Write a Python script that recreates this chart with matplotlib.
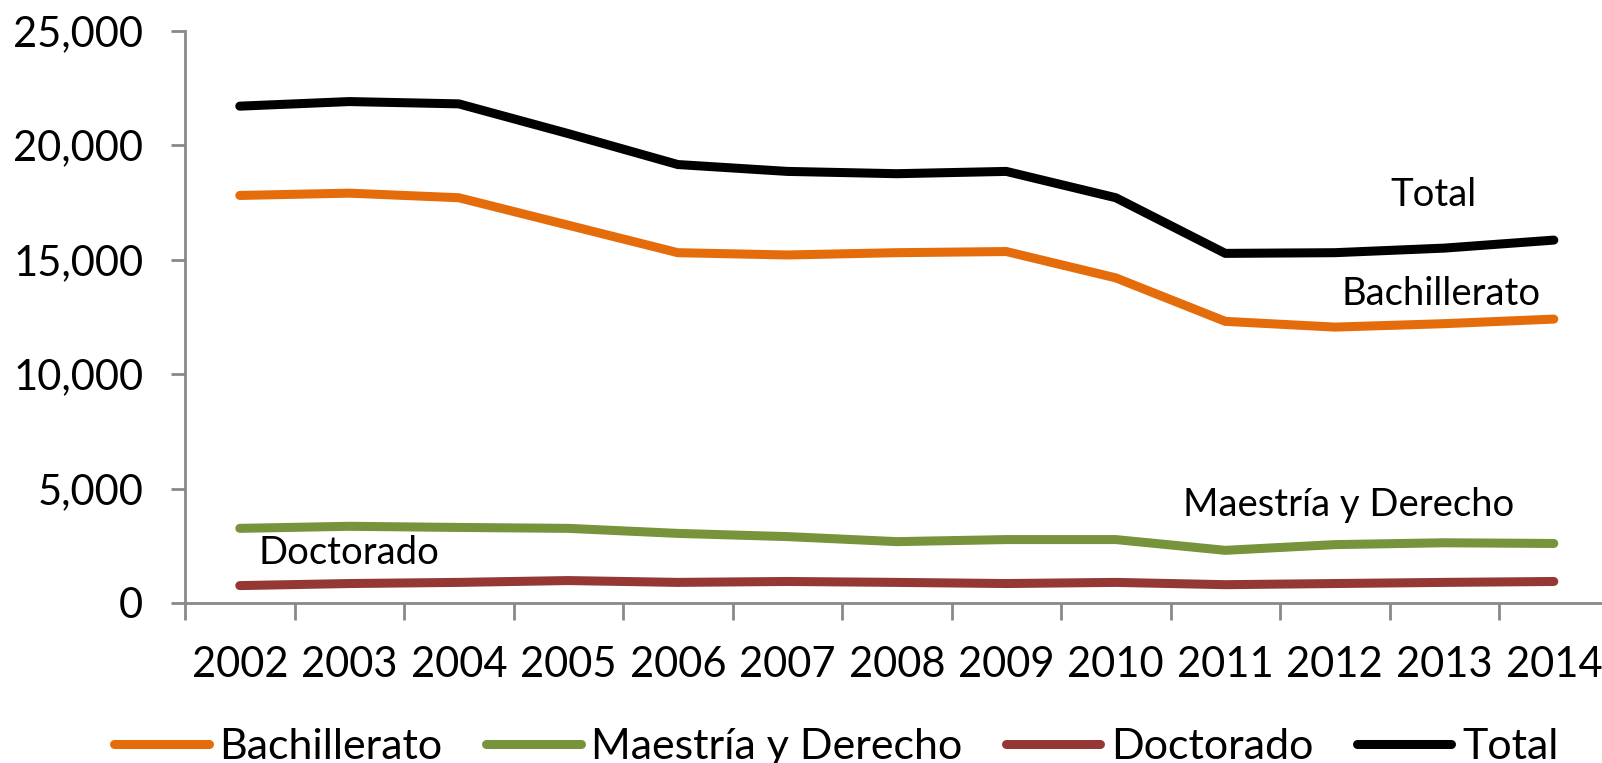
import numpy as np
import matplotlib.pyplot as plt

plt.rcParams['font.family'] = ['Lato', 'DejaVu Sans']

years = ['2002', '2003', '2004', '2005', '2006', '2007', '2008',
         '2009', '2010', '2011', '2012', '2013', '2014']
bachillerato = [17800, 17900, 17700, 16500, 15300, 15200, 15300,
                15350, 14200, 12300, 12050, 12200, 12400]
maestria = [3260, 3350, 3300, 3260, 3040, 2900, 2680,
            2770, 2770, 2300, 2550, 2630, 2600]
doctorado = [760, 850, 900, 980, 900, 940, 900,
             850, 900, 800, 850, 900, 940]
total = [21700, 21900, 21800, 20500, 19150, 18850, 18750,
         18850, 17700, 15270, 15300, 15500, 15850]

series = [
    ('Bachillerato', bachillerato, '#E46C0A'),
    ('Maestría y Derecho', maestria, '#77933C'),
    ('Doctorado', doctorado, '#953735'),
    ('Total', total, '#000000'),
]

fig = plt.figure(figsize=(16.02, 7.63), dpi=100)
ax = fig.add_axes([0.1155, 0.2097, 0.8886, 0.7502])

x = np.arange(len(years))
for name, vals, col in series:
    ax.plot(x, vals, color=col, lw=6.5, solid_capstyle='round',
            solid_joinstyle='round', label=name)

ax.set_xlim(-0.5, len(years) - 0.5)
ax.set_ylim(0, 25000)
ax.set_yticks(np.arange(0, 25001, 5000))
ax.set_yticklabels([f'{v:,}' for v in range(0, 25001, 5000)])
ax.set_xticks(x)
ax.set_xticklabels(years)
ax.set_xticks(np.arange(-0.5, len(years)), minor=True)

grey = '#898989'
for s in ['top', 'right']:
    ax.spines[s].set_visible(False)
for s in ['left', 'bottom']:
    ax.spines[s].set_color(grey)
    ax.spines[s].set_linewidth(2)

ax.tick_params(axis='y', direction='out', length=10, width=2, color=grey,
               labelsize=30, pad=20)
ax.tick_params(axis='x', which='major', length=0, labelsize=30, pad=31)
ax.tick_params(axis='x', which='minor', direction='out', length=12,
               width=2, color=grey)

lab_kw = dict(fontsize=27.5, ha='center', va='center')
ax.text(10.9, 17820, 'Total', **lab_kw)
ax.text(10.97, 13500, 'Bachillerato', **lab_kw)
ax.text(10.13, 4280, 'Maestría y Derecho', **lab_kw)
ax.text(1.0, 2180, 'Doctorado', **lab_kw)

leg = fig.legend(loc='center', bbox_to_anchor=(0.522, 0.021), ncol=4,
                 frameon=False, fontsize=31, handlelength=2.2,
                 handletextpad=0.25, columnspacing=1.0)

fig.savefig('out.png', dpi=100)
